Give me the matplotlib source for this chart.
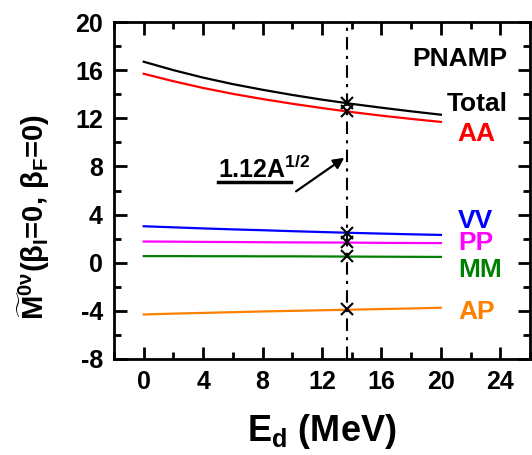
import matplotlib
matplotlib.use("Agg")
import matplotlib.pyplot as plt
from matplotlib.ticker import MultipleLocator

plt.rcParams["font.family"] = ["Liberation Sans", "DejaVu Sans"]
plt.rcParams["font.weight"] = "bold"
plt.rcParams["axes.unicode_minus"] = False
plt.rcParams["mathtext.fontset"] = "custom"
plt.rcParams["mathtext.rm"] = "Liberation Sans:bold"
plt.rcParams["mathtext.bf"] = "Liberation Sans:bold"
plt.rcParams["mathtext.it"] = "Liberation Sans:bold"

# data
ed = [0, 2, 4, 6, 8, 10, 12, 14, 16, 18, 20]
total = [16.7, 16.0, 15.38, 14.84, 14.37, 13.94, 13.55, 13.2, 12.88, 12.58, 12.3]
aa = [15.7, 15.08, 14.52, 14.03, 13.6, 13.21, 12.85, 12.52, 12.22, 11.95, 11.7]
vv = [3.03, 2.94, 2.85, 2.77, 2.7, 2.62, 2.55, 2.48, 2.42, 2.36, 2.31]
pp = [1.76, 1.75, 1.73, 1.72, 1.7, 1.69, 1.68, 1.67, 1.65, 1.64, 1.63]
mm = [0.55, 0.55, 0.54, 0.54, 0.53, 0.53, 0.52, 0.51, 0.5, 0.49, 0.48]
ap = [-4.3, -4.23, -4.17, -4.11, -4.05, -4.0, -3.95, -3.9, -3.85, -3.8, -3.74]

ed_mark = 13.7  # 1.12 A^(1/2)
marks = [13.28, 12.6, 2.48, 1.7, 0.55, -3.86]

series = [
    ("Total", total, "black"),
    ("AA", aa, "red"),
    ("VV", vv, "blue"),
    ("PP", pp, "magenta"),
    ("MM", mm, "green"),
    ("AP", ap, "#ff8000"),
]
label_pos = {
    "Total": (20.4, 13.2),
    "AA": (21.1, 10.7),
    "VV": (21.15, 3.5),
    "PP": (21.15, 1.65),
    "MM": (21.15, -0.6),
    "AP": (21.15, -4.1),
}

fig = plt.figure(figsize=(5.32, 4.55), dpi=100)
ax = fig.add_axes([0.2143, 0.211, 0.782, 0.7406])

for name, vals, col in series:
    ax.plot(ed, vals, color=col, lw=1.6)
    tx, ty = label_pos[name]
    ax.text(tx, ty, name, color=col, fontsize=19, fontweight="bold",
            ha="left", va="center")

ax.axvline(ed_mark, color="black", lw=1.5, ls=(0, (6, 3, 1.5, 3)))
ax.plot([ed_mark] * len(marks), marks, ls="none", marker="x",
        color="black", ms=8, mew=1.5)

ax.text(18.07, 16.9, "PNAMP", fontsize=19, fontweight="bold",
        ha="left", va="center")

ax.annotate("", xy=(13.65, 8.85), xytext=(10.1, 5.8),
            arrowprops=dict(arrowstyle="-|>", color="black", lw=1.6,
                            mutation_scale=16))
ax.text(5.03, 7.0, r"1.12A$^{\mathbf{1/2}}$", fontsize=18,
        fontweight="bold", ha="left", va="baseline")
ax.plot([5.03, 9.9], [6.7, 6.7], color="black", lw=2.5)

ax.set_xlim(-2, 26)
ax.set_ylim(-8, 20)
ax.xaxis.set_major_locator(MultipleLocator(4))
ax.xaxis.set_minor_locator(MultipleLocator(2))
ax.yaxis.set_major_locator(MultipleLocator(4))
ax.yaxis.set_minor_locator(MultipleLocator(2))
ax.set_xticks([0, 4, 8, 12, 16, 20, 24])
ax.tick_params(which="both", direction="in", top=True, right=True,
               width=2)
ax.tick_params(which="major", length=9, labelsize=18, pad=8)
ax.tick_params(which="minor", length=5)
for s in ax.spines.values():
    s.set_linewidth(2)
for lab in ax.get_xticklabels() + ax.get_yticklabels():
    lab.set_fontweight("bold")

ax.set_xlabel(r"E$_{\mathbf{d}}$ (MeV)", fontsize=26, fontweight="bold",
              labelpad=13)
ax.set_ylabel(r"$\widetilde{\mathbf{M}}^{\mathbf{0}\nu}$($\beta_{I}$=0, $\beta_{F}$=0)",
              fontsize=21, fontweight="bold")
ax.yaxis.set_label_coords(-0.15, 0.42)

fig.savefig("out.png", dpi=100)
